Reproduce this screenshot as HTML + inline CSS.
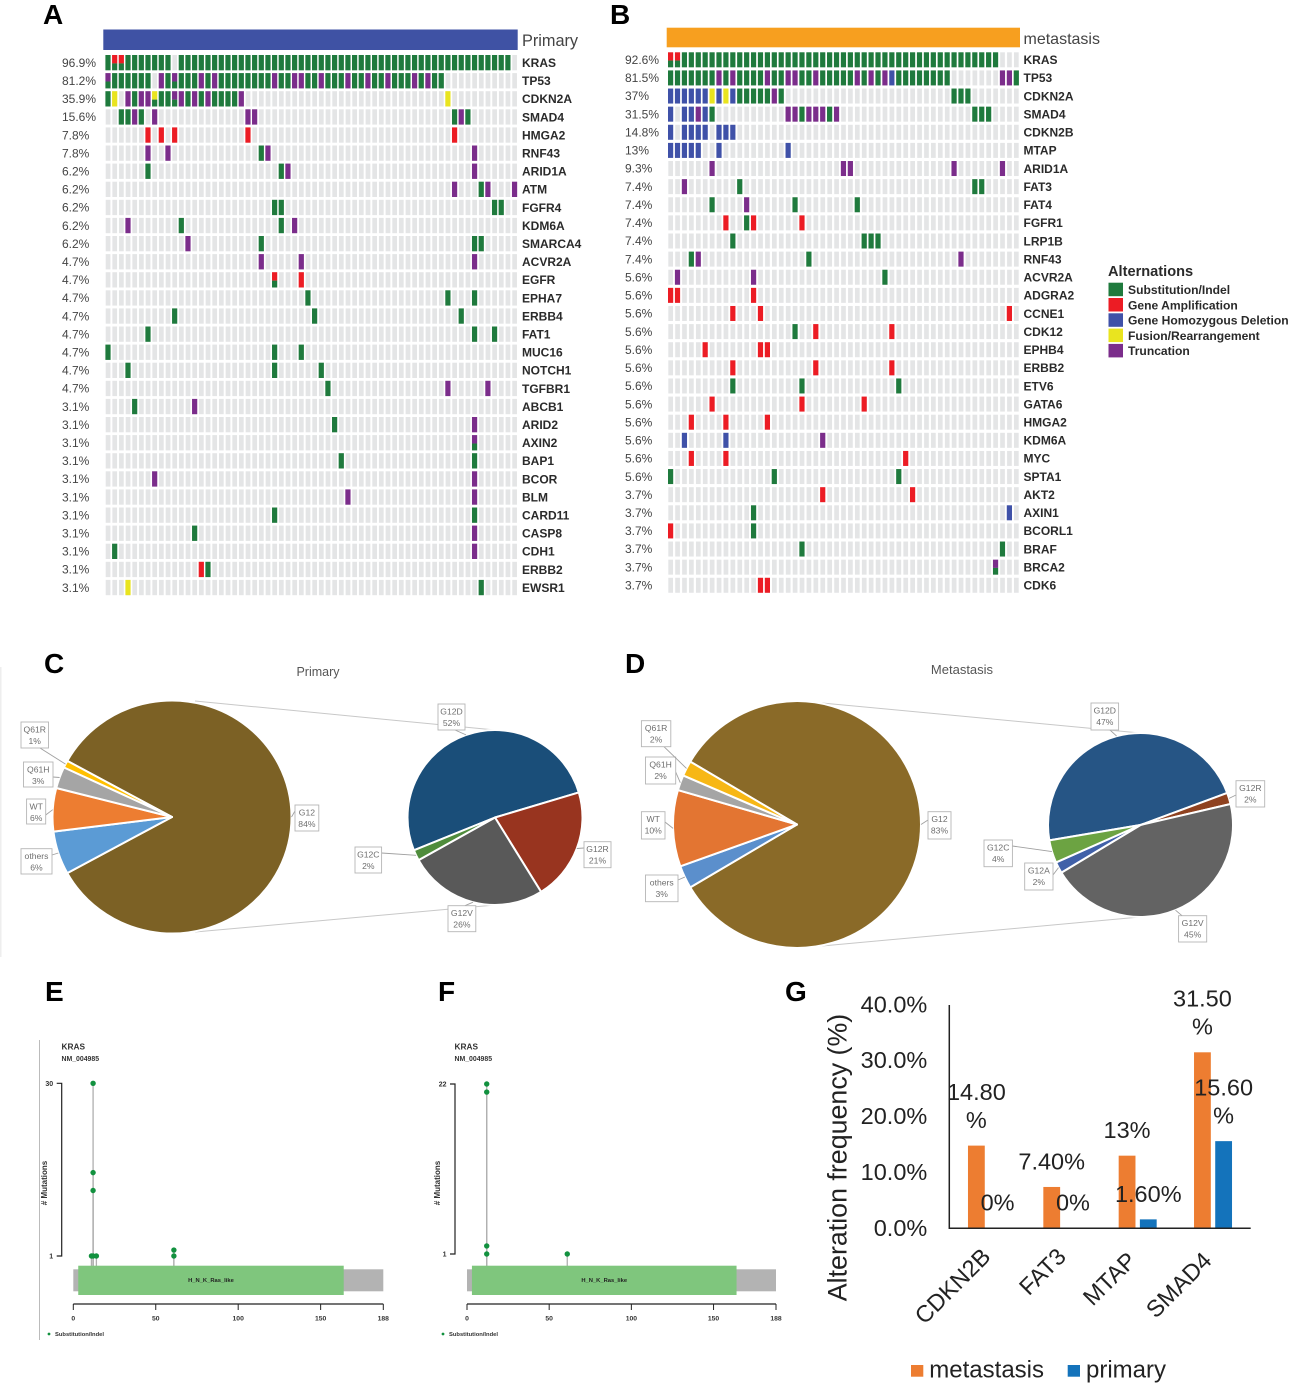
<!DOCTYPE html>
<html>
<head>
<meta charset="utf-8">
<title>KRAS alteration figure</title>
<style>
html,body{margin:0;padding:0;background:#fff;}
svg{display:block;font-family:"Liberation Sans",sans-serif;filter:blur(0.35px);}
.panel{font-size:28px;font-weight:700;fill:#000;}
</style>
</head>
<body>
<svg id="fig" width="1293" height="1385" viewBox="0 0 1293 1385" xmlns="http://www.w3.org/2000/svg">
  <rect x="0" y="0" width="1293" height="1385" fill="#fff"/>
  <text class="panel" x="43" y="24">A</text>
  <text class="panel" x="610" y="24">B</text>
  <text class="panel" x="44" y="673">C</text>
  <text class="panel" x="625" y="673">D</text>
  <text class="panel" x="45" y="1001">E</text>
  <text class="panel" x="438" y="1001">F</text>
  <text class="panel" x="785" y="1001">G</text>

  <g id="oncoA">
    <rect x="103.3" y="29.5" width="414.4" height="20.5" fill="#3f52a4"/>
    <text x="522" y="46" font-size="16.3" fill="#444">Primary</text>
  </g>
  <g id="oncoB">
    <rect x="666.7" y="27.7" width="353.3" height="19.6" fill="#f79f1f"/>
    <text x="1023.5" y="44" font-size="16" fill="#444">metastasis</text>
  </g>

  <g font-size="12.1" font-weight="700" fill="#2a2a2a">
    <text x="1108" y="276" font-size="14.6">Alternations</text>
    <rect x="1108.5" y="282.7" width="14.5" height="13.5" fill="#1f7a3d"/>
    <text x="1128" y="294">Substitution/Indel</text>
    <rect x="1108.5" y="298" width="14.5" height="13.5" fill="#ec1c24"/>
    <text x="1128" y="309.3">Gene Amplification</text>
    <rect x="1108.5" y="313.3" width="14.5" height="13.5" fill="#3f51a8"/>
    <text x="1128" y="324.6">Gene Homozygous Deletion</text>
    <rect x="1108.5" y="328.6" width="14.5" height="13.5" fill="#e9e41f"/>
    <text x="1128" y="339.9">Fusion/Rearrangement</text>
    <rect x="1108.5" y="343.9" width="14.5" height="13.5" fill="#7b2d8b"/>
    <text x="1128" y="355.2">Truncation</text>
  </g>

  <rect x="0" y="667" width="1.5" height="290" fill="#eeeeee"/>
  <g id="pieC">
    <text x="318" y="676" font-size="12.5" fill="#555" text-anchor="middle">Primary</text>
  </g>
  <g id="pieD">
    <text x="962" y="674" font-size="13" fill="#555" text-anchor="middle">Metastasis</text>
  </g>

  <g id="lolliE">
    <rect x="39" y="1040" width="1" height="300" fill="#bbbbbb"/>
  </g>
  <g id="lolliF"></g>
  <g id="barG"></g>
</svg>

<script>
/* ---------- Panel A data ---------- */
const primaryGenes = ["KRAS","TP53","CDKN2A","SMAD4","HMGA2","RNF43","ARID1A","ATM","FGFR4","KDM6A","SMARCA4","ACVR2A","EGFR","EPHA7","ERBB4","FAT1","MUC16","NOTCH1","TGFBR1","ABCB1","ARID2","AXIN2","BAP1","BCOR","BLM","CARD11","CASP8","CDH1","ERBB2","EWSR1"];
const primaryPercents = [96.9,81.2,35.9,15.6,7.8,7.8,6.2,6.2,6.2,6.2,6.2,4.7,4.7,4.7,4.7,4.7,4.7,4.7,4.7,3.1,3.1,3.1,3.1,3.1,3.1,3.1,3.1,3.1,3.1,3.1];
const primaryAlterations = [
  {g:[0,3,4,5,6,7,8,9,11,12,13,14,15,16,17,18,19,20,21,22,23,24,25,26,27,28,29,30,31,32,33,34,35,36,37,38,39,40,41,42,43,44,45,46,47,48,49,50,51,52,53,54,55,56,57,58,59,60],rg:[1,2]},
  {g:[1,2,3,4,5,6,9,11,12,13,15,17,18,19,20,21,22,23,24,26,27,30,31,33,34,35,37,38,40,41,43,44,45,47,49,50],p:[8,14,16,25,28,29,32,36,39,42,46,48],pg:[0,10]},
  {g:[0,4,8,9,12,14,16,17,18,19],y:[1,51],p:[3,5,6,11,13,15,20],yg:[7],pg:[10]},
  {g:[2,3,5,52,54],p:[4,7,21,22,53]},
  {r:[6,8,10,21,52]},
  {p:[6,9,24,55],g:[23]},
  {g:[6,26],p:[27,55]},
  {p:[52,57,61],g:[56]},
  {g:[25,26,58,59]},
  {p:[3,28],g:[11,26]},
  {p:[12],g:[23,55,56]},
  {p:[23,29,55]},
  {rg:[25],r:[29]},
  {g:[30,51,55]},
  {g:[10,31,53]},
  {g:[6,55,58]},
  {g:[0,25,29]},
  {g:[3,25,32]},
  {g:[33],p:[51,57]},
  {g:[4],p:[13]},
  {g:[34],p:[55]},
  {pg:[55]},
  {g:[35,55]},
  {p:[7,55]},
  {p:[36,55]},
  {g:[25,55]},
  {g:[13],p:[55]},
  {g:[1],p:[55]},
  {r:[14],g:[15]},
  {y:[3],g:[56]}
];

/* ---------- Panel B data ---------- */
const metastasisGenes = ["KRAS","TP53","CDKN2A","SMAD4","CDKN2B","MTAP","ARID1A","FAT3","FAT4","FGFR1","LRP1B","RNF43","ACVR2A","ADGRA2","CCNE1","CDK12","EPHB4","ERBB2","ETV6","GATA6","HMGA2","KDM6A","MYC","SPTA1","AKT2","AXIN1","BCORL1","BRAF","BRCA2","CDK6"];
const metastasisPercents = ["92.6","81.5","37","31.5","14.8","13","9.3","7.4","7.4","7.4","7.4","7.4","5.6","5.6","5.6","5.6","5.6","5.6","5.6","5.6","5.6","5.6","5.6","5.6","3.7","3.7","3.7","3.7","3.7","3.7"];
const metastasisAlterations = [
  {rg:[0,1],g:[2,3,4,5,6,7,8,9,10,11,12,13,14,15,16,17,18,19,20,21,22,23,24,25,26,27,28,29,30,31,32,33,34,35,36,37,38,39,40,41,42,43,44,45,46,47]},
  {g:[0,1,2,3,4,5,6,8,10,11,12,13,15,16,19,20,22,23,24,25,26,28,30,33,34,35,36,37,38,39,40,50],p:[7,9,14,17,18,21,27,29,31,48,49],b:[32]},
  {b:[0,1,2,3,4,5,7,9],y:[6,8],g:[10,11,12,13,14,16,41,42,43],p:[15]},
  {b:[0,2,3,5],p:[4,17,18,20,21,22,24],g:[6,19,23,44,45,46]},
  {b:[0,2,3,4,5,7,8,9]},
  {b:[0,1,2,3,4,7,17]},
  {p:[6,25,26,41,48]},
  {p:[2],g:[10,44,45]},
  {g:[6,18,27],p:[11]},
  {r:[8,12,19],g:[11]},
  {g:[9,28,29,30]},
  {g:[3,20],p:[4,42]},
  {p:[1,12],g:[31]},
  {r:[0,1,12]},
  {r:[9,13,49]},
  {g:[18],r:[21,32]},
  {r:[5,13,14]},
  {r:[9,21,32]},
  {g:[9,19,33]},
  {r:[6,19,28]},
  {r:[3,8,14]},
  {b:[2,8],p:[22]},
  {r:[3,8,34]},
  {g:[0,15,33]},
  {r:[22,35]},
  {g:[12],b:[49]},
  {r:[0],g:[12]},
  {g:[19,48]},
  {pg:[47]},
  {r:[13,14]}
];

/* ---------- Panel C / D data ---------- */
const primaryMainLabels = ["G12","others","WT","Q61H","Q61R"];
const primaryMainValues = [84,6,6,3,1];
const primaryDetailLabels = ["G12D","G12R","G12V","G12C"];
const primaryDetailValues = [52,21,26,2];
const metastasisMainLabels = ["G12","others","WT","Q61H","Q61R"];
const metastasisMainValues = [83,3,10,2,2];
const metastasisDetailLabels = ["G12D","G12R","G12V","G12A","G12C"];
const metastasisDetailValues = [47,2,45,2,4];

/* ---------- Panel E / F data ---------- */
const primaryMutationPositions = [12,12,12,11,12,14,61,61];
const primaryMutationCounts = [30,15,12,1,1,1,1,2];
const metastasisMutationPositions = [12,12,12,12,61];
const metastasisMutationCounts = [22,21,2,1,1];
const lollipopXTicks = [0,50,100,150,188];

/* ---------- Panel G data ---------- */
const barCategories = ["CDKN2B","FAT3","MTAP","SMAD4"];
const metastasisFrequency = [14.8,7.4,13,31.5];
const primaryFrequency = [0,0,1.6,15.6];
const metastasisPrinted = ["14.80 %","7.40%","13%","31.50 %"];
const primaryPrinted = ["0%","0%","1.60%","15.60 %"];
const barYTicks = [0,10,20,30,40];

/* ---------- helpers ---------- */
const SVGNS = "http://www.w3.org/2000/svg";
function add(tag, attrs, parent, txt){
  const el = document.createElementNS(SVGNS, tag);
  for (const k in attrs) el.setAttribute(k, attrs[k]);
  if (txt !== undefined) el.textContent = txt;
  parent.appendChild(el);
  return el;
}
const ALT_COLORS = {g:"#1f7a3d", r:"#ec1c24", b:"#3f51a8", y:"#e9e41f", p:"#7b2d8b"};

function drawOncoprint(root, genes, percents, alterations, cfg){
  const colX = i => cfg.x0 + i * cfg.step;
  const rowY = r => cfg.y0 + r * cfg.rowStep;
  genes.forEach((gene, r) => {
    const y = rowY(r);
    for (let i = 0; i < cfg.cols; i++){
      const bg = add("rect", {x:colX(i).toFixed(2), y:y.toFixed(2), width:cfg.w, height:cfg.h, fill:"#e4e5e6"}, root);
      
      
    }
    const alt = alterations[r];
    Object.keys(alt).forEach(type => {
      alt[type].forEach(i => {
        if (type.length === 1){
          const m = add("rect", {x:(colX(i)-0.3).toFixed(2), y:y.toFixed(2), width:cfg.w+0.5, height:cfg.h, fill:ALT_COLORS[type]}, root);
          
          
        } else {
          const top = add("rect", {x:(colX(i)-0.3).toFixed(2), y:y.toFixed(2), width:cfg.w+0.5, height:cfg.h*0.55, fill:ALT_COLORS[type[0]]}, root);
          
          
          const bot = add("rect", {x:(colX(i)-0.3).toFixed(2), y:(y+cfg.h*0.55).toFixed(2), width:cfg.w+0.5, height:cfg.h*0.45, fill:ALT_COLORS[type[1]]}, root);
          
          
        }
      });
    });
    const pct = add("text", {x:cfg.pctX, y:(y+cfg.h/2+4.2).toFixed(2), "font-size":12, fill:"#444"}, root, percents[r] + "%");
    
    
    const lab = add("text", {x:cfg.labelX, y:(y+cfg.h/2+4.3).toFixed(2), "font-size":12, "font-weight":700, fill:"#2a2a2a"}, root, gene);
    
    
  });
}
drawOncoprint(document.getElementById("oncoA"), primaryGenes, primaryPercents, primaryAlterations,
  {x0:105.7, step:6.665, y0:55, rowStep:18.1, cols:62, w:4.7, h:15.3, pctX:62, labelX:522});
drawOncoprint(document.getElementById("oncoB"), metastasisGenes, metastasisPercents, metastasisAlterations,
  {x0:668.3, step:6.914, y0:52.3, rowStep:18.12, cols:51, w:4.7, h:15, pctX:625, labelX:1023.5});

/* ---------- pies ---------- */
function ellPoint(p, deg){
  const t = deg * Math.PI / 180;
  return [p.cx + p.rx * Math.cos(t), p.cy + p.ry * Math.sin(t)];
}
function drawPie(root, labels, values, p, colors, callouts){
  const total = values.reduce((a,b) => a + b, 0);
  const start = p.centerFirst ? -values[0] / total * 180 : p.start;
  let a = start;
  const mids = {};
  labels.forEach((lab, i) => {
    const span = values[i] / total * 360;
    const s = ellPoint(p, a), e = ellPoint(p, a + span);
    const large = span > 180 ? 1 : 0;
    const d = `M${p.cx} ${p.cy}L${s[0].toFixed(2)} ${s[1].toFixed(2)}A${p.rx} ${p.ry} 0 ${large} 1 ${e[0].toFixed(2)} ${e[1].toFixed(2)}Z`;
    const slice = add("path", {d:d, fill:colors[lab], stroke:"#fff", "stroke-width":2, "stroke-linejoin":"round"}, root);
    
    
    mids[lab] = a + span / 2;
    a += span;
  });
  labels.forEach((lab, i) => {
    const c = callouts[lab];
    const tip = ellPoint(p, mids[lab]);
    const leader = add("polyline", {points:`${c.ax},${c.ay} ${tip[0].toFixed(1)},${tip[1].toFixed(1)}`, fill:"none", stroke:"#a0a0a0", "stroke-width":0.9}, root);
    
    
    const box = add("rect", {x:c.x, y:c.y, width:c.w, height:c.h, fill:"#fff", stroke:"#b5b5b5", "stroke-width":0.9}, root);
    
    
    const t1 = add("text", {x:c.x + c.w/2, y:c.y + 10.5, "font-size":8.6, fill:"#6e6e6e", "text-anchor":"middle"}, root, lab);
    
    
    const t2 = add("text", {x:c.x + c.w/2, y:c.y + 22, "font-size":8.6, fill:"#6e6e6e", "text-anchor":"middle"}, root, values[i] + "%");
    
    
  });
}
function connector(root, x1, y1, x2, y2){
  const l = add("line", {x1:x1, y1:y1, x2:x2, y2:y2, stroke:"#c8c8c8", "stroke-width":1}, root);
  
  
}
const pieC = document.getElementById("pieC");
connector(pieC, 195, 701, 495, 730);
connector(pieC, 195, 932, 495, 905);
drawPie(pieC, primaryMainLabels, primaryMainValues,
  {cx:172, cy:817, rx:119.5, ry:116.5, centerFirst:true},
  {G12:"#7c6125", others:"#5b9bd5", WT:"#ed7d31", Q61H:"#a5a5a5", Q61R:"#ffc000"},
  {Q61R:{x:21,y:722,w:27.5,h:26,ax:40,ay:748}, Q61H:{x:23.5,y:762,w:29.5,h:25,ax:53,ay:777}, WT:{x:26.6,y:799,w:19.1,h:25,ax:45.7,ay:815}, others:{x:21,y:848.7,w:31,h:25.3,ax:52,ay:855}, G12:{x:295,y:805,w:23.8,h:26,ax:295,ay:811}});
drawPie(pieC, primaryDetailLabels, primaryDetailValues,
  {cx:495, cy:817.5, rx:87.5, ry:87.5, start:158},
  {G12D:"#1a4e79", G12R:"#98341f", G12V:"#595959", G12C:"#4f8c3c"},
  {G12D:{x:438,y:704,w:27,h:26,ax:455,ay:730}, G12R:{x:584,y:841.7,w:27,h:26,ax:584,ay:848}, G12C:{x:355,y:847,w:26.6,h:26,ax:381.6,ay:853}, G12V:{x:448,y:905.7,w:27.8,h:26,ax:465,ay:905.7}});

const pieD = document.getElementById("pieD");
connector(pieD, 822, 703, 1140, 733);
connector(pieD, 822, 946, 1140, 917);
drawPie(pieD, metastasisMainLabels, metastasisMainValues,
  {cx:797, cy:824.5, rx:124, ry:123.5, centerFirst:true},
  {G12:"#8a6a28", others:"#5b8fcc", WT:"#e37532", Q61H:"#a5a5a5", Q61R:"#f7b715"},
  {Q61R:{x:641.4,y:720.7,w:29.4,h:26,ax:664,ay:746.7}, Q61H:{x:645.5,y:757,w:30.2,h:27,ax:675.7,ay:772}, WT:{x:641.4,y:811.7,w:23.6,h:27.3,ax:665,ay:822}, others:{x:645.5,y:875,w:32.5,h:26.7,ax:678,ay:880}, G12:{x:928,y:811.7,w:23,h:27.3,ax:928,ay:820}});
drawPie(pieD, metastasisDetailLabels, metastasisDetailValues,
  {cx:1140.5, cy:825, rx:92.5, ry:92, start:170.4},
  {G12D:"#265585", G12R:"#8f4220", G12V:"#636363", G12A:"#4060a8", G12C:"#6ca342"},
  {G12D:{x:1091,y:703,w:27.6,h:27,ax:1110,ay:730}, G12R:{x:1236,y:780.7,w:28.7,h:26.3,ax:1236,ay:795}, G12C:{x:984,y:840,w:28.4,h:26.7,ax:1012.4,ay:846}, G12A:{x:1024.7,y:863,w:28.3,h:27,ax:1053,ay:875}, G12V:{x:1178.6,y:915.7,w:28.1,h:26.3,ax:1182,ay:915.7}});

/* ---------- lollipops ---------- */
function drawLollipop(root, positions, counts, maxCount, cfg){
  const xs = aa => cfg.x0 + aa * (cfg.x1 - cfg.x0) / 188;
  const ys = c => cfg.yOne - (c - 1) * (cfg.yOne - cfg.yMax) / (maxCount - 1);
  const d1 = add("text", {x:cfg.textX, y:1049.5, "font-size":8.3, "font-weight":700, fill:"#333"}, root, "KRAS");
  
  
  const d2 = add("text", {x:cfg.textX, y:1061, "font-size":6.9, "font-weight":700, fill:"#333"}, root, "NM_004985");
  
  
  const yAxis = add("path", {d:`M${cfg.axisX-5} ${ys(maxCount)}H${cfg.axisX}V${ys(1)}H${cfg.axisX-5}`, fill:"none", stroke:"#222", "stroke-width":1.2}, root);
  
  
  [maxCount, 1].forEach(v => {
    const t = add("text", {x:cfg.axisX-8.5, y:ys(v)+2.5, "font-size":7, "font-weight":700, fill:"#333", "text-anchor":"end"}, root, v);
    
    
  });
  const yTitle = add("text", {transform:`translate(${cfg.titleX},1183) rotate(-90)`, "font-size":8, "font-weight":700, fill:"#333", "text-anchor":"middle"}, root, "# Mutations");
  
  
  positions.forEach((pos, i) => {
    const stem = add("line", {x1:xs(pos), x2:xs(pos), y1:1266, y2:ys(counts[i]), stroke:"#b0b0b0", "stroke-width":1.3}, root);
    
    
  });
  const backbone = add("rect", {x:cfg.x0, y:1269.3, width:cfg.x1-cfg.x0, height:22, fill:"#b3b3b3"}, root);
  
  
  const domain = add("rect", {x:xs(3), y:1265.7, width:xs(164)-xs(3), height:29.3, fill:"#7fc67d"}, root);
  
  
  const domainLabel = add("text", {x:(xs(3)+xs(164))/2, y:1282, "font-size":5.8, "font-weight":700, fill:"#222", "text-anchor":"middle"}, root, "H_N_K_Ras_like");
  
  
  positions.forEach((pos, i) => {
    const dot = add("circle", {cx:xs(pos), cy:ys(counts[i]), r:2.7, fill:"#12913f"}, root);
    
    
  });
  const xAxis = add("line", {x1:cfg.x0, x2:cfg.x1, y1:1304, y2:1304, stroke:"#222", "stroke-width":1.2}, root);
  
  
  lollipopXTicks.forEach(v => {
    const tk = add("line", {x1:xs(v), x2:xs(v), y1:1304, y2:1310, stroke:"#222", "stroke-width":1}, root);
    
    
    const tl = add("text", {x:xs(v), y:1320.5, "font-size":6.8, "font-weight":700, fill:"#333", "text-anchor":"middle"}, root, v);
    
    
  });
  const ld = add("circle", {cx:cfg.legendX, cy:1334, r:1.4, fill:"#12913f"}, root);
  
  
  const lt = add("text", {x:cfg.legendX+6, y:1336, "font-size":5.8, "font-weight":700, fill:"#333"}, root, "Substitution/Indel");
  
  
}
drawLollipop(document.getElementById("lolliE"), primaryMutationPositions, primaryMutationCounts, 30,
  {x0:73.3, x1:383.3, yOne:1256, yMax:1083.3, axisX:61.7, textX:61.5, titleX:47, legendX:49});
drawLollipop(document.getElementById("lolliF"), metastasisMutationPositions, metastasisMutationCounts, 22,
  {x0:467, x1:776, yOne:1254, yMax:1084, axisX:455, textX:454.5, titleX:440, legendX:443});

/* ---------- bars ---------- */
(function(){
  const root = document.getElementById("barG");
  const X0 = 949.3, X1 = 1250.7, Y0 = 1228.3, PX = 5.587;
  const yScale = v => Y0 - v * PX;
  const band = i => X0 + (i + 0.5) * (X1 - X0) / barCategories.length;
  const FS = 23.5;
  barYTicks.forEach(v => {
    const t = add("text", {x:927.3, y:yScale(v)+7.5, "font-size":FS, fill:"#222", "text-anchor":"end"}, root, v.toFixed(1) + "%");
    
    
  });
  const yT = add("text", {transform:"translate(846.5,1157.5) rotate(-90)", "font-size":26.8, fill:"#222", "text-anchor":"middle"}, root, "Alteration frequency (%)");
  
  
  function series(values, printed, offset, color, name){
    values.forEach((v, i) => {
      const cx = band(i) + offset;
      if (v > 0){
        const b = add("rect", {x:cx - 8.4, y:yScale(v), width:16.8, height:Y0 - yScale(v), fill:color}, root);
        
        
      }
    });
    return function(){
      values.forEach((v, i) => {
        const cx = band(i) + offset;
        const lines = printed[i].split(" ");
        lines.forEach((ln, k) => {
          const base = yScale(v) - 17.6 - (lines.length - 1 - k) * 28.2;
          const t = add("text", {x:cx, y:base, "font-size":FS, fill:"#222", "text-anchor":"middle"}, root, ln);
          
          
        });
      });
    };
  }
  const labelsM = series(metastasisFrequency, metastasisPrinted, -10.6, "#ed7d31", "metastasis");
  const labelsP = series(primaryFrequency, primaryPrinted, 10.6, "#1473bb", "primary");
  const axes = add("path", {d:`M${X0} 1005V${Y0}H${X1}`, fill:"none", stroke:"#222", "stroke-width":1.5}, root);
  
  
  labelsM();
  labelsP();
  barCategories.forEach((c, i) => {
    const tx = band(i) + (i < 2 ? 5 : 0);
    const ty = i < 2 ? 1258 : 1262;
    const t = add("text", {transform:`translate(${tx},${ty}) rotate(-45)`, "font-size":FS, fill:"#222", "text-anchor":"end"}, root, c);
    
    
  });
  const s1 = add("rect", {x:911, y:1365, width:12.3, height:11.7, fill:"#ed7d31"}, root);
  
  
  const l1 = add("text", {x:929.3, y:1377.5, "font-size":24, fill:"#222"}, root, "metastasis");
  
  
  const s2 = add("rect", {x:1067.7, y:1365, width:12.3, height:11.7, fill:"#1473bb"}, root);
  
  
  const l2 = add("text", {x:1086, y:1377.5, "font-size":24, fill:"#222"}, root, "primary");
  
  
})();
</script>
</body>
</html>
